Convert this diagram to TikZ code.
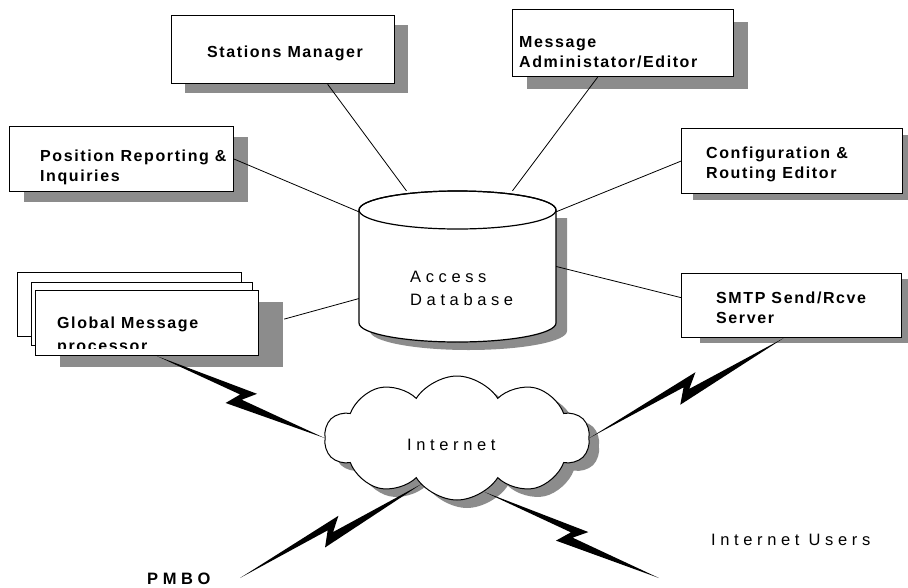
\documentclass[tikz,border=0pt]{standalone}
\usepackage{fontspec}
\setmainfont{Liberation Sans}
\newfontfamily\boxfont[LetterSpace=10]{Liberation Sans}
\newfontfamily\widefont[LetterSpace=28]{Liberation Sans}
\usetikzlibrary{shapes.symbols,shadows,calc}

% lightning link from #1 to #2
\newcommand{\zbolt}[2]{%
  \fill (#1) -- ($(#1)!0.57!(#2)!10pt!90:(#2)$) -- ($(#1)!0.51!(#2)!2pt!-90:(#2)$)
    -- (#2) -- ($(#1)!0.44!(#2)!12pt!-90:(#2)$) -- ($(#1)!0.49!(#2)!2pt!90:(#2)$) -- cycle;}

\begin{document}
\begin{tikzpicture}[x=1pt,y=-1pt]
  \tikzstyle{box} = [rectangle, draw, line width=1.2pt, fill=white, anchor=north west]
  \tikzstyle{boxtext} = [anchor=west, align=left, inner sep=0pt, font=\boxfont\bfseries\fontsize{16pt}{20pt}\selectfont]
  \tikzstyle{bigtext} = [anchor=west, align=left, inner sep=0pt, font=\widefont\fontsize{16.5pt}{23pt}\selectfont]
  \tikzstyle{link} = [line width=0.8pt]
  \tikzset{boxshadow/.style 2 args={drop shadow={shadow xshift=#1, shadow yshift=#2, fill=black!45, opacity=1}}}

  \useasboundingbox (0,0) rectangle (908,587);

  \node (stations) [box, minimum width=223pt, minimum height=68pt, boxshadow={13pt}{-9pt}] at (171,15) {};
  \node (stationslbl) [boxtext] at (207,53.5) {Stations Manager};

  \node (message) [box, minimum width=221pt, minimum height=67pt, boxshadow={14pt}{-12pt}] at (512,9) {};
  \node (messagelbl) [boxtext] at (519,52.5) {Message\\Administator/Editor};

  \node (position) [box, minimum width=224pt, minimum height=65pt, boxshadow={14pt}{-10pt}] at (9,126) {};
  \node (positionlbl) [boxtext] at (40,167.5) {Position Reporting \&\\Inquiries};

  \node (config) [box, minimum width=221pt, minimum height=65pt, boxshadow={11pt}{-6pt}] at (681,128) {};
  \node (configlbl) [boxtext] at (706,164.5) {Configuration \&\\Routing Editor};

  \node (smtp) [box, minimum width=220pt, minimum height=64pt, boxshadow={18pt}{-5pt}] at (681,273) {};
  \node (smtplbl) [boxtext] at (716,307.5) {SMTP Send/Rcve\\Server};

  \node (gmpback) [box, minimum width=224pt, minimum height=64pt] at (17,272) {};
  \node (gmpmid) [box, minimum width=221pt, minimum height=63pt] at (31,282) {};
  \node (gmp) [box, minimum width=223pt, minimum height=65pt, boxshadow={24pt}{-11pt}] at (35,290) {};
  \begin{scope}
    \clip (gmp.north west) rectangle ([yshift=8pt]gmp.south east);
    \node (gmplbl) [boxtext, font=\boxfont\bfseries\fontsize{16pt}{23pt}\selectfont] at (57,335.5) {Global Message\\processor};
  \end{scope}

  % database drum
  \node (db) [minimum width=197pt, minimum height=151pt, inner sep=0pt] at (457.5,266.5) {};
  \begin{scope}[shift={(db.center)}]
    \fill [black!45, shift={(11,8)}] (-98.5,-56.5) -- (-98.5,56.5)
      arc[start angle=180, end angle=0, x radius=98.5, y radius=19] -- (98.5,-56.5) -- cycle;
    \filldraw [fill=white, line width=1.2pt] (-98.5,-56.5) -- (-98.5,56.5)
      arc[start angle=180, end angle=0, x radius=98.5, y radius=19] -- (98.5,-56.5)
      arc[start angle=0, end angle=-180, x radius=98.5, y radius=19] -- cycle;
    \draw [line width=1.2pt] (0,-56.5) ellipse [x radius=98.5, y radius=19];
  \end{scope}
  \node (dblbl) [bigtext] at (410,288.5) {Access\\Database};

  \node (inet) [cloud, cloud puffs=10, cloud puff arc=115, aspect=2.1, draw, line width=1pt, fill=white,
    minimum width=265pt, minimum height=124pt, boxshadow={10pt}{-8pt}] at (457,438) {};
  \node (inetlbl) [bigtext] at (407,445) {Internet};

  \node (pmbo) [bigtext, font=\widefont\bfseries\fontsize{16.5pt}{20pt}\selectfont] at (147,579) {PMBO};
  \node (users) [bigtext] at (711,540) {Internet Users};
  \coordinate (pmbotip) at (240,578);
  \coordinate (userstip) at (659,578);

  \draw [link] ([xshift=44.5pt]stations.south) -- (db.124);
  \draw [link] ([xshift=-25.5pt]message.south) -- (db.54);
  \draw [link] (position.east) -- (db.151);
  \draw [link] (config.west) -- (db.29);
  \draw [link] ([yshift=8pt]smtp.west) -- (db.east);
  \draw [link] ([xshift=25pt,yshift=4pt]gmp.east) -- (db.198);

  \zbolt{gmp.-73}{inet.west}
  \zbolt{pmbotip}{inet.232}
  \zbolt{inet.297}{userstip}
  \zbolt{inet.east}{smtp.-104}
\end{tikzpicture}
\end{document}
